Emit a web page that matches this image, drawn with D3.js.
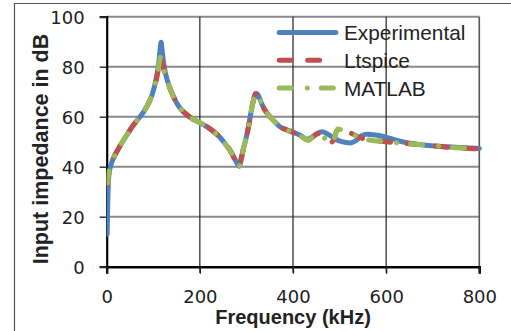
<!DOCTYPE html>
<html>
<head>
<meta charset="utf-8">
<script src="https://cdn.jsdelivr.net/npm/d3@7"></script>
<style>
  html, body { margin: 0; padding: 0; background: #fff; }
  svg { display: block; }
</style>
</head>
<body>
<svg id="chart" width="511" height="331"></svg>
<script>
// Input impedance (dB) versus frequency (kHz): measured, Ltspice and MATLAB
const seriesNames = ["Experimental", "Ltspice", "MATLAB"];
const xTicks = [0, 200, 400, 600, 800];
const yTicks = [0, 20, 40, 60, 80, 100];
const xTitle = "Frequency (kHz)";
const yTitle = "Input impedance in dB";

// [frequency kHz, impedance dB]
const experimental = [
  [1,13],[1.8,21],[2.6,28],[3.5,33.5],[5,37],[8,40],[12,42.3],[18,44.8],[27,47.8],[36,50.6],
  [47,53.8],[57,56.6],[66,58.7],[74,60.6],[82,62.7],[90,65.5],[97,68.5],[103,72.5],[108,77],
  [112,82],[115,87.5],[116.8,89.8],[118.5,87.5],[121.5,82.5],[125.5,78],[131,74],[138,70.5],
  [146,67],[156,63.8],[168,61.4],[182,59.4],[200,57.6],[215,56],[230,54],[243,51.8],[255,49],
  [265,46.5],[274,43.5],[281,41],[285,40.2],[289,43],[294,47.5],[300,52],[305,56.5],[310,62],
  [315,66.5],[320,69.3],[324,69],[330,66.5],[337,63.5],[346,61],[358,58.5],[372,56],[387,54.8],
  [401,53.8],[416,52.5],[430,51],[440,51.7],[452,53.3],[462,54],[475,53],[490,51.2],[505,50],
  [523,49.5],[537,50.7],[548,52.4],[557,53],[570,52.8],[587,52.4],[605,51.5],[630,50.2],
  [655,49.3],[680,48.7],[705,48.3],[731,48],[765,47.6],[800,47.3]
];

const ltspice = [
  [2,33],[3.5,36],[5,38],[8,40.3],[12,42.3],[18,44.8],[27,47.8],[36,50.6],[47,53.8],[57,56.6],
  [66,58.7],[74,60.6],[82,62.7],[90,65.5],[97,68.5],[103,72.3],[108,76],[111,79.3],[113.5,82],
  [116,83.6],[118.5,82.2],[121.5,79.5],[125.5,77],[131,73.6],[138,70.3],[146,67],[156,63.8],
  [168,61.4],[182,59.4],[200,57.6],[215,56],[230,54],[243,51.8],[255,49],[265,46.5],[274,43.2],
  [280,40.8],[284,40],[288,42.8],[294,47.5],[300,52],[305,56.5],[310,62],[315,66.5],[320,69.2],
  [324,68.8],[330,66.3],[337,63.5],[346,61],[358,58.5],[372,56],[387,54.6],[401,53.6],
  [416,52.2],[432,50.6],[443,52],[454,53.3],[463,52.2],[473,50.6],[482,49.8],[487,50.5],
  [492,53.5],[496,55],[505,54.6],[523,53.5],[540,52],[559,50.8],[581,50.3],[605,49.9],
  [630,49.5],[655,49.1],[680,48.7],[710,48.2],[738,47.7],[770,47.4],[800,47.1]
];

const matlab = [
  [2,33.5],[3.5,36],[5,38],[8,40.3],[12,42.3],[18,44.8],[27,47.8],[36,50.6],[47,53.8],[57,56.6],
  [66,58.7],[74,60.6],[82,62.7],[90,65.5],[97,68.5],[103,72.3],[108,76],[111,79.5],[113.5,82.3],
  [116,84],[118.5,82.5],[121.5,79.7],[125.5,77],[131,73.6],[138,70.3],[146,67],[156,63.8],
  [168,61.4],[182,59.4],[200,57.6],[215,56],[230,54],[243,51.8],[255,49],[265,46.5],[274,43.2],
  [280,40.8],[284,40],[288,42.8],[294,47.5],[300,52],[305,56.5],[310,62],[315,66.5],[320,69.4],
  [324,69],[330,66.3],[337,63.5],[346,61],[358,58.5],[372,56],[387,54.6],[401,53.6],
  [416,52.2],[432,50.6],[443,52],[454,53.4],[463,52.3],[473,50.6],[482,49.8],[487,50.5],
  [492,53.5],[496,55.1],[505,54.7],[523,53.5],[540,52],[559,50.8],[581,50.3],[605,49.9],
  [630,49.5],[655,49.1],[680,48.7],[710,48.2],[738,47.7],[770,47.4],[800,47.1]
];

const colors = { Experimental: "#4f81bd", Ltspice: "#c0504d", MATLAB: "#9bbb59" };
const dashes = { Experimental: null, Ltspice: "12,16.5", MATLAB: "12,16,0.1,14" };
const data = { Experimental: experimental, Ltspice: ltspice, MATLAB: matlab };

const svg = d3.select("#chart");
const plot = { left: 106.7, right: 479.3, top: 16.7, bottom: 266.7 };

const x = d3.scaleLinear().domain([0, 800]).range([plot.left, plot.right]);
const y = d3.scaleLinear().domain([0, 100]).range([plot.bottom, plot.top]);

// outer frame (top and left edges)
svg.append("path")
  .attr("d", "M14.5,331 V3.5 H511")
  .attr("fill", "none").attr("stroke", "#555").attr("stroke-width", 1.2);

// horizontal gridlines
svg.append("g").selectAll("line").data(yTicks.filter(d => d > 0)).join("line")
  .attr("x1", plot.left).attr("x2", plot.right)
  .attr("y1", d => y(d)).attr("y2", d => y(d))
  .attr("stroke", "#8a8a8a").attr("stroke-width", 2);

// vertical gridlines
svg.append("g").selectAll("line").data(xTicks.filter(d => d > 0)).join("line")
  .attr("x1", d => x(d)).attr("x2", d => x(d))
  .attr("y1", plot.top).attr("y2", plot.bottom + 6)
  .attr("stroke", d => d === 800 ? "#555" : "#222").attr("stroke-width", d => d === 800 ? 1.6 : 1.2);

// y axis
const yAxis = d3.axisLeft(y).tickValues(yTicks).tickSize(7).tickPadding(15).tickFormat(d3.format("d"));
const gy = svg.append("g").attr("transform", `translate(${plot.left},0)`).call(yAxis);
gy.select(".domain").attr("stroke", "#000").attr("stroke-width", 2.2);
gy.selectAll(".tick line").attr("stroke", "#333").attr("stroke-width", 1.5);
gy.selectAll(".tick text")
  .attr("font-family", "DejaVu Sans").attr("font-size", 18).attr("fill", "#222").attr("dy", "0.36em");

// x axis
const xAxis = d3.axisBottom(x).tickValues(xTicks).tickSize(7).tickPadding(0).tickFormat(d3.format("d"));
const gx = svg.append("g").attr("transform", `translate(0,${plot.bottom})`).call(xAxis);
gx.select(".domain").attr("stroke", "#000").attr("stroke-width", 2.4);
gx.selectAll(".tick line").attr("stroke", "#222").attr("stroke-width", 1.3);
gx.selectAll(".tick text")
  .attr("font-family", "DejaVu Sans").attr("font-size", 18).attr("fill", "#222")
  .attr("dy", null).attr("y", 36);

// axis titles
svg.append("text")
  .attr("x", (plot.left + plot.right) / 2).attr("y", 324)
  .attr("text-anchor", "middle")
  .attr("font-family", "Liberation Sans").attr("font-weight", "bold").attr("font-size", 20)
  .attr("fill", "#222").text(xTitle);

svg.append("text")
  .attr("transform", "translate(47.5,149) rotate(-90)")
  .attr("text-anchor", "middle")
  .attr("font-family", "Liberation Sans").attr("font-weight", "bold").attr("font-size", 21.5)
  .attr("fill", "#222").text(yTitle);

// curves
svg.append("clipPath").attr("id", "plot-clip").append("rect")
  .attr("x", plot.left).attr("y", plot.top - 10)
  .attr("width", plot.right - plot.left + 4).attr("height", plot.bottom - plot.top + 10);

const line = d3.line().x(d => x(d[0])).y(d => y(d[1])).curve(d3.curveMonotoneX);
const curves = svg.append("g").attr("clip-path", "url(#plot-clip)");
seriesNames.forEach(name => {
  curves.append("path")
    .datum(data[name])
    .attr("d", line)
    .attr("fill", "none")
    .attr("stroke", colors[name])
    .attr("stroke-width", 5)
    .attr("stroke-linecap", "round")
    .attr("stroke-linejoin", "round")
    .attr("stroke-dasharray", dashes[name]);
});

// legend
const legend = svg.append("g");
seriesNames.forEach((name, i) => {
  const ly = 32.5 + i * 27.8;
  legend.append("line")
    .attr("x1", 279.2).attr("x2", 335.8).attr("y1", ly).attr("y2", ly)
    .attr("stroke", colors[name]).attr("stroke-width", 5)
    .attr("stroke-linecap", "round")
    .attr("stroke-dasharray", dashes[name]);
  legend.append("text")
    .attr("x", 344).attr("y", ly + 7.5)
    .attr("font-family", "Liberation Sans").attr("font-size", 20.8)
    .attr("fill", "#222").text(name);
});
</script>
</body>
</html>
